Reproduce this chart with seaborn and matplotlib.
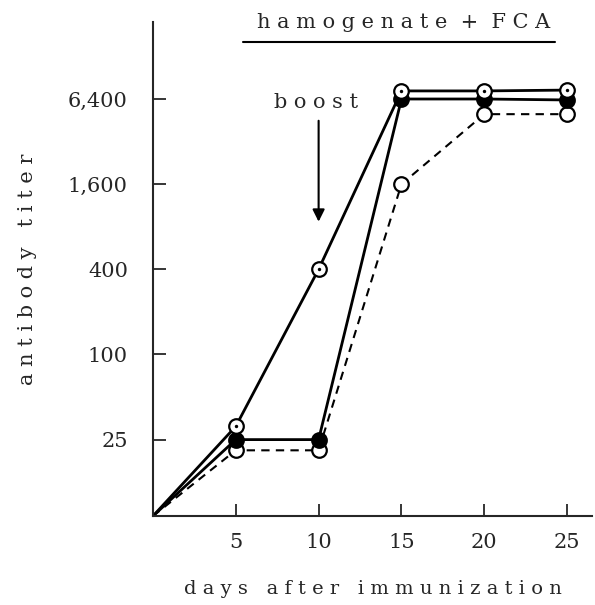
import numpy as np
import pandas as pd
import matplotlib
matplotlib.use("Agg")
import matplotlib.pyplot as plt
import seaborn as sns

# ==========================================================
# DATA
# ==========================================================

DAYS = [0, 5, 10, 15, 20, 25]
BASE = 7.2  # titer at the origin (bottom of axis)

titer_dot_open = [BASE, 31, 400, 7300, 7300, 7400]
titer_filled = [BASE, 25, 25, 6400, 6400, 6300]
titer_dashed_open = [BASE, 21, 21, 1600, 5000, 5000]

Y_TICKS = [25, 100, 400, 1600, 6400]
Y_TICK_LABELS = ["25", "100", "400", "1,600", "6,400"]
X_TICKS = [5, 10, 15, 20, 25]


def spaced(s):
    return " ".join(s)


# ==========================================================
# PLOT
# ==========================================================

sns.set_style("ticks")
plt.rcParams["font.family"] = ["DejaVu Serif"]

df = pd.DataFrame({
    "day": DAYS * 3,
    "titer": titer_dot_open + titer_filled + titer_dashed_open,
    "group": ["dot"] * 6 + ["filled"] * 6 + ["dashed"] * 6,
})

fig = plt.figure(figsize=(5.95, 6.05), dpi=100)
ax = fig.add_axes([0.257, 0.147, 0.738, 0.817])

styles = {
    "dot": dict(ls="-", mfc="white", lw=2.0),
    "filled": dict(ls="-", mfc="black", lw=2.0),
    "dashed": dict(ls=(0, (4, 3)), mfc="white", lw=1.5),
}

for g in ["dashed", "filled", "dot"]:
    sub = df[df["group"] == g]
    sns.lineplot(data=sub, x="day", y="titer", ax=ax, color="black",
                 linestyle=styles[g]["ls"], linewidth=styles[g]["lw"],
                 legend=False, zorder=2)
    pts = sub[sub["day"] > 0]
    sns.scatterplot(data=pts, x="day", y="titer", ax=ax, s=110,
                    color=styles[g]["mfc"], edgecolor="black", linewidth=1.6,
                    legend=False, zorder=3)
    if g == "dot":
        sns.scatterplot(data=pts, x="day", y="titer", ax=ax, s=6,
                        color="black", linewidth=0, legend=False, zorder=4)

ax.set_yscale("log", base=2)
ax.set_xlim(0, 26.5)
ax.set_ylim(BASE, 22500)

ax.set_yticks(Y_TICKS)
ax.set_yticklabels(Y_TICK_LABELS)
ax.minorticks_off()
ax.set_xticks(X_TICKS)
ax.tick_params(axis="both", direction="in", length=9, width=1.3,
               labelsize=15, pad=12)
ax.tick_params(axis="y", pad=18)

for side in ["top", "right"]:
    ax.spines[side].set_visible(False)
for side in ["left", "bottom"]:
    ax.spines[side].set_linewidth(1.5)

ax.set_xlabel(spaced("days") + "   " + spaced("after") + "   " + spaced("immunization"),
              fontsize=14, labelpad=20)
ax.set_ylabel(spaced("antibody") + "   " + spaced("titer"),
              fontsize=15, labelpad=22)

# bracket for treatment period
fig.text(0.678, 0.962, spaced("hamogenate") + "  +  " + spaced("FCA"),
         fontsize=15, ha="center", va="center")
fig.add_artist(plt.Line2D([0.408, 0.933], [0.931, 0.931], color="black",
                          lw=1.5, transform=fig.transFigure))

# boost arrow
ax.annotate("", xy=(10, 830), xytext=(10, 4700),
            arrowprops=dict(arrowstyle="-|>", color="black", lw=1.5,
                            mutation_scale=18))
ax.text(9.85, 6000, spaced("boost"), fontsize=15, ha="center", va="center")

fig.savefig("out.png", dpi=100)
plt.close(fig)
